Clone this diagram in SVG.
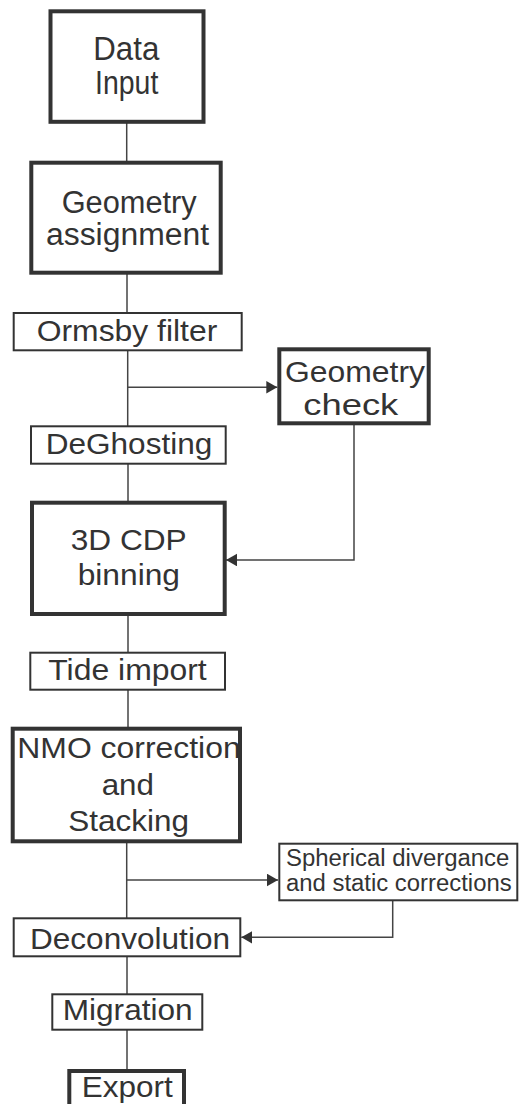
<svg xmlns="http://www.w3.org/2000/svg" width="519" height="1104" viewBox="0 0 519 1104">
  <style>
    .thick { fill: #ffffff; stroke: #333333; stroke-width: 4; }
    .thin { fill: #ffffff; stroke: #333333; stroke-width: 2; }
    .lbl { font-family: "Liberation Sans", Arial, sans-serif; fill: #333333; text-anchor: start; }
    .conn { fill: none; stroke: #444444; stroke-width: 1.5; }
  </style>
  <defs>
    <marker id="arrow" markerUnits="userSpaceOnUse" markerWidth="13" markerHeight="13" refX="11" refY="6.3" orient="auto">
      <path d="M0,0 L11,6.3 L0,12.6 z" fill="#333333"/>
    </marker>
  </defs>
  <rect width="519" height="1104" fill="#ffffff"/>

  <!-- process flow connectors -->
  <g id="connectors">
    <line class="conn" x1="126.7" y1="122" x2="126.7" y2="162"/>
    <line class="conn" x1="127" y1="273" x2="127" y2="313"/>
    <line class="conn" x1="127.7" y1="350" x2="127.7" y2="426"/>
    <line class="conn" x1="127.7" y1="387.3" x2="277.3" y2="387.3" marker-end="url(#arrow)"/>
    <line class="conn" x1="128" y1="464" x2="128" y2="502"/>
    <polyline class="conn" points="354,424 354,560 226,560" marker-end="url(#arrow)"/>
    <line class="conn" x1="128" y1="614" x2="128" y2="653"/>
    <line class="conn" x1="128" y1="690" x2="128" y2="728"/>
    <line class="conn" x1="126.7" y1="842" x2="126.7" y2="918"/>
    <line class="conn" x1="126.7" y1="880" x2="278" y2="880" marker-end="url(#arrow)"/>
    <polyline class="conn" points="392.7,901 392.7,937.3 241.3,937.3" marker-end="url(#arrow)"/>
    <line class="conn" x1="127" y1="956" x2="127" y2="995"/>
    <line class="conn" x1="127" y1="1030" x2="127" y2="1070"/>
  </g>

  <g id="data-input">
    <rect class="thick" x="50.5" y="11.3" width="153" height="110.5"/>
    <text class="lbl" x="93.3" y="60" font-size="33" textLength="66" lengthAdjust="spacingAndGlyphs">Data</text>
    <text class="lbl" x="95" y="94.3" font-size="33" textLength="63.3" lengthAdjust="spacingAndGlyphs">Input</text>
  </g>

  <g id="geometry-assignment">
    <rect class="thick" x="31.3" y="162.7" width="189.4" height="110"/>
    <text class="lbl" x="61.7" y="213.3" font-size="31" textLength="135" lengthAdjust="spacingAndGlyphs">Geometry</text>
    <text class="lbl" x="46" y="245" font-size="31" textLength="163" lengthAdjust="spacingAndGlyphs">assignment</text>
  </g>

  <g id="ormsby-filter">
    <rect class="thin" x="13.7" y="313" width="228" height="37.3"/>
    <text class="lbl" x="36.7" y="340.7" font-size="29" textLength="180.6" lengthAdjust="spacingAndGlyphs">Ormsby filter</text>
  </g>

  <g id="geometry-check">
    <rect class="thick" x="279.3" y="349.3" width="149.4" height="74"/>
    <text class="lbl" x="285" y="381.7" font-size="29" textLength="140" lengthAdjust="spacingAndGlyphs">Geometry</text>
    <text class="lbl" x="303.3" y="415" font-size="29" textLength="95" lengthAdjust="spacingAndGlyphs">check</text>
  </g>

  <g id="deghosting">
    <rect class="thin" x="31" y="426.3" width="194.7" height="37.4"/>
    <text class="lbl" x="45.7" y="454" font-size="29" textLength="166.6" lengthAdjust="spacingAndGlyphs">DeGhosting</text>
  </g>

  <g id="cdp-binning">
    <rect class="thick" x="32" y="502.7" width="192.7" height="111.3"/>
    <text class="lbl" x="70.7" y="550" font-size="30" textLength="116" lengthAdjust="spacingAndGlyphs">3D CDP</text>
    <text class="lbl" x="77.7" y="585" font-size="30" textLength="102.3" lengthAdjust="spacingAndGlyphs">binning</text>
  </g>

  <g id="tide-import">
    <rect class="thin" x="30.3" y="652.7" width="194.7" height="37"/>
    <text class="lbl" x="48.3" y="680" font-size="29" textLength="158.4" lengthAdjust="spacingAndGlyphs">Tide import</text>
  </g>

  <g id="nmo-stacking">
    <rect class="thick" x="12.7" y="728.7" width="227.3" height="112.6"/>
    <text class="lbl" x="17.3" y="758.3" font-size="30" textLength="223.4" lengthAdjust="spacingAndGlyphs">NMO correction</text>
    <text class="lbl" x="101.7" y="795" font-size="30" textLength="52.3" lengthAdjust="spacingAndGlyphs">and</text>
    <text class="lbl" x="68.3" y="830.7" font-size="30" textLength="120.7" lengthAdjust="spacingAndGlyphs">Stacking</text>
  </g>

  <g id="spherical-static">
    <rect class="thin" x="279.3" y="843.7" width="238" height="56.6"/>
    <text class="lbl" x="286" y="866.3" font-size="23" textLength="223.3" lengthAdjust="spacingAndGlyphs">Spherical divergance</text>
    <text class="lbl" x="286" y="891.3" font-size="23" textLength="225.7" lengthAdjust="spacingAndGlyphs">and static corrections</text>
  </g>

  <g id="deconvolution">
    <rect class="thin" x="13.7" y="918.3" width="226.6" height="38"/>
    <text class="lbl" x="30" y="949.3" font-size="29" textLength="200" lengthAdjust="spacingAndGlyphs">Deconvolution</text>
  </g>

  <g id="migration">
    <rect class="thin" x="52.3" y="994.3" width="150" height="35.4"/>
    <text class="lbl" x="62.7" y="1020" font-size="29" textLength="130" lengthAdjust="spacingAndGlyphs">Migration</text>
  </g>

  <g id="export">
    <rect class="thick" x="69.3" y="1071" width="114.7" height="50"/>
    <text class="lbl" x="81.7" y="1097.3" font-size="29.5" textLength="91" lengthAdjust="spacingAndGlyphs">Export</text>
  </g>
</svg>
